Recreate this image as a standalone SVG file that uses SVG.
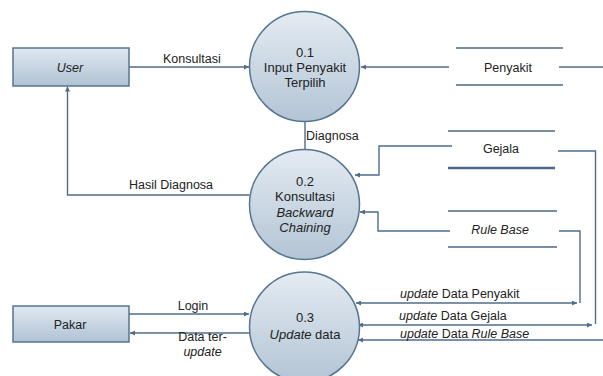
<svg xmlns="http://www.w3.org/2000/svg" width="603" height="376" viewBox="0 0 603 376">
<defs>
<linearGradient id="gc" x1="0" y1="0" x2="0" y2="1">
<stop offset="0" stop-color="#e4ebf2"/>
<stop offset="1" stop-color="#b3c4d5"/>
</linearGradient>
<linearGradient id="gr" x1="0" y1="0" x2="0" y2="1">
<stop offset="0" stop-color="#e0e8f0"/>
<stop offset="1" stop-color="#b0c2d4"/>
</linearGradient>
<marker id="ah" viewBox="0 0 6 6" refX="6" refY="3" markerWidth="5" markerHeight="5" orient="auto-start-reverse" markerUnits="userSpaceOnUse">
<path d="M0,0 L6,3 L0,6 z" fill="#4e6d8c"/>
</marker>
</defs>
<style>
.t{font-family:"Liberation Sans",Arial,sans-serif;font-size:12.5px;fill:#222}
.c{font-family:"Liberation Sans",Arial,sans-serif;font-size:13px;fill:#222;text-anchor:middle}
.m{text-anchor:middle}
.i{font-style:italic}
.proc{fill:url(#gc);stroke:#56758f;stroke-width:1.5}
.ent{fill:url(#gr);stroke:#56758f;stroke-width:1.5}
.st{stroke:#4b6a88;stroke-width:1.6;fill:none}
.ln{stroke:#4e6d8c;stroke-width:1.4;fill:none}
.a1{marker-end:url(#ah)}
.a2{marker-start:url(#ah);marker-end:url(#ah)}
.a0{marker-start:url(#ah)}
</style>
<rect width="603" height="376" fill="#fff"/>

<g id="connectors">
<path class="ln a1" d="M129,67 H249"/>
<path class="ln a1" d="M449,67 H361"/>
<path class="ln" d="M559,67 H603"/>
<path class="ln" d="M305,121.5 V149.5"/>
<path class="ln a1" d="M249.5,195 H67.5 V86.5"/>
<path class="ln a1" d="M452,146 H379 V175 H355"/>
<path class="ln a1" d="M450,231 H378 V212 H360"/>
<path class="ln" d="M558,151 H595.5 V324"/>
<path class="ln" d="M559,231 H580 V303"/>
<path class="ln a2" d="M356,303 H577"/>
<path class="ln a2" d="M358,325 H592"/>
<path class="ln a0" d="M358,340 H603"/>
<path class="ln a1" d="M129,314 H249"/>
<path class="ln a1" d="M250,333 H130"/>
<text class="t" x="163" y="62.5">Konsultasi</text>
<text class="t" x="306" y="140">Diagnosa</text>
<text class="t" x="129" y="188.5">Hasil Diagnosa</text>
<text class="t m" x="193" y="310">Login</text>
<text class="t m" x="202.5" y="340.5">Data ter-</text>
<text class="t m i" x="202.5" y="355.5">update</text>
<text class="t" x="400" y="298"><tspan class="i">update</tspan> Data Penyakit</text>
<text class="t" x="399" y="320"><tspan class="i">update</tspan> Data Gejala</text>
<text class="t" x="400" y="338"><tspan class="i">update</tspan> Data <tspan class="i">Rule Base</tspan></text>
</g>

<g id="user">
<rect class="ent" x="13" y="48" width="116" height="38"/>
<text class="t m i" x="70" y="71.5">User</text>
</g>
<g id="pakar">
<rect class="ent" x="13" y="306" width="116" height="36"/>
<text class="t m" x="70" y="328.5">Pakar</text>
</g>

<g id="p01">
<circle class="proc" cx="304.5" cy="66.5" r="55"/>
<text class="c" x="305" y="56.5">0.1</text>
<text class="c" x="305" y="72">Input Penyakit</text>
<text class="c" x="305" y="87">Terpilih</text>
</g>
<g id="p02">
<circle class="proc" cx="304.5" cy="204.5" r="55"/>
<text class="c" x="305" y="186">0.2</text>
<text class="c" x="305" y="201">Konsultasi</text>
<text class="c i" x="305" y="216.5">Backward</text>
<text class="c i" x="305" y="231.5">Chaining</text>
</g>
<g id="p03">
<circle class="proc" cx="304.5" cy="327" r="55"/>
<text class="c" x="305" y="321.5">0.3</text>
<text class="c" x="305" y="338.5"><tspan class="i">Update</tspan> data</text>
</g>

<g id="ds-penyakit">
<path class="st" d="M456,48 H563 M456,85 H563"/>
<text class="t m" x="508" y="71.5">Penyakit</text>
</g>
<g id="ds-gejala">
<path class="st" d="M448,131 H555"/>
<path class="st" d="M448,168 H555" style="stroke-width:2.6"/>
<text class="t m" x="501" y="152.5">Gejala</text>
</g>
<g id="ds-rulebase">
<path class="st" d="M448,211 H557 M448,247 H557"/>
<text class="t m i" x="500" y="233.5">Rule Base</text>
</g>
</svg>
